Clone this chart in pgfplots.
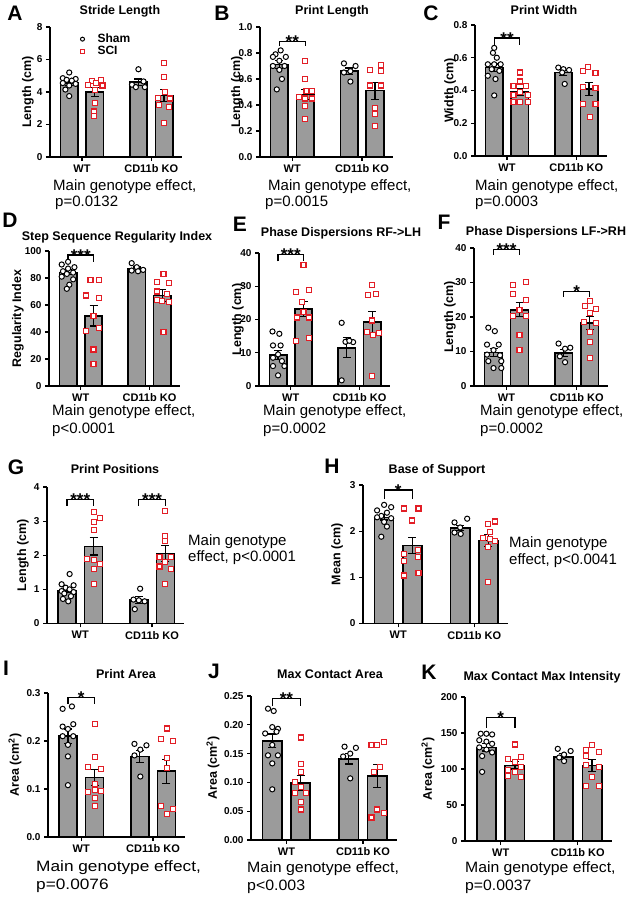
\documentclass[border=0pt]{standalone}
\usepackage{pgfplots}
\pgfplotsset{compat=1.18}
\usepackage{fontspec}
\setmainfont{Liberation Sans}
\definecolor{barg}{RGB}{155,155,155}
\definecolor{scired}{RGB}{226,30,38}
\newcommand\lfont{\bfseries\fontsize{21}{22}\selectfont}
\newcommand\tfont{\bfseries\fontsize{12.5}{14}\selectfont}
\newcommand\mfont{\fontsize{15}{17}\selectfont}
\newcommand\sfont{\bfseries\fontsize{17}{17}\selectfont}
\pgfplotsset{
  prism/.style={
    scale only axis, anchor=south west,
    axis x line*=bottom, axis y line*=left,
    axis line style={line width=1.3pt,-},
    xmin=0.25, xmax=5.4, ymin=0,
    xtick={1.5,4.2}, xticklabels={WT,CD11b KO},
    tick style={line width=1.2pt, black},
    major tick length=4pt, tick align=outside,
    x tick label style={font=\bfseries\fontsize{11}{12}\selectfont},
    y tick label style={font=\bfseries\fontsize{10}{11}\selectfont},
    /pgf/number format/assume math mode=true,
    scaled y ticks=false,
    clip=false,
    every axis y label/.style={rotate=90, anchor=center, font=\bfseries\fontsize{12.5}{14}\selectfont},
  },
  ylpos/.style={every axis y label/.append style={at={(axis description cs:#1,0.5)}}},
  dec/.style={yticklabel style={/pgf/number format/.cd, fixed, fixed zerofill, precision=#1}},
  bars/.style={ybar, bar width=0.68, bar shift=0pt, fill=barg, draw=black, line width=1.6pt,
    error bars/.cd, y dir=both, y explicit,
    error bar style={line width=1.2pt, black},
    error mark options={rotate=90, mark size=4pt, line width=1.2pt, black}},
  sham/.style={only marks, mark=*, mark size=2.6pt, mark options={fill=white, draw=black, line width=1pt, solid}},
  sci/.style={only marks, mark=square*, mark size=2.5pt, mark options={fill=white, draw=scired, line width=1.1pt, solid}},
  brk/.style={black, line width=1.2pt, mark=none},
}
\begin{document}
\begin{tikzpicture}
\path[use as bounding box] (0pt,0pt) rectangle (637pt,899pt);

% ---------------- A
\begin{axis}[prism, at={(50pt,742pt)}, width=132pt, height=130pt, ymax=8, ytick={0,2,4,6,8},
  ylpos=-0.167, ylabel={Length (cm)},
  legend image code/.code={\path[draw=none,fill=none] (0pt,-3pt) rectangle (6pt,3pt); \draw[#1] plot coordinates {(3pt,0pt)};},
  legend style={at={(0.222,0.955)}, anchor=north west, draw=none, fill=none,
    font=\bfseries\fontsize{12}{13}\selectfont, row sep=0pt, column sep=11pt, inner sep=0pt, nodes={inner sep=1pt}},
  legend cell align=left]
\addplot[forget plot, bars] coordinates {(1,4.55) +- (0,0.13) (2,3.99) +- (0,0.27) (3.7,4.6) +- (0,0.2) (4.7,3.78) +- (0,0.38)};
\addplot[forget plot, sham] coordinates {(1.0,5.2)(0.75,4.85)(1.25,4.8)(0.9,4.75)(1.1,4.7)(0.75,4.55)(1.25,4.5)(1.0,4.4)(0.85,4.15)(1.0,3.75)
  (3.7,5.4)(3.9,4.65)(3.45,4.45)(3.6,4.3)(3.95,4.3)};
\addplot[forget plot, sci] coordinates {(2.25,4.75)(1.9,4.65)(2.05,4.55)(1.75,4.45)(2.3,4.4)(2.0,4.15)(2.0,3.35)(1.95,2.8)(1.95,2.5)
  (4.7,5.8)(4.7,4.95)(4.72,4.0)(4.48,3.65)(4.92,3.6)(4.5,3.2)(4.9,3.1)(4.7,2.1)};
\addlegendimage{sham, mark size=2pt}\addlegendentry{Sham}
\addlegendimage{sci, mark size=1.9pt}\addlegendentry{SCI}
\end{axis}

% ---------------- B
\begin{axis}[prism, at={(260pt,742pt)}, width=133pt, height=130pt, ymax=1, ytick={0,0.2,0.4,0.6,0.8,1.0}, dec=1,
  ylpos=-0.173, ylabel={Length (cm)}]
\addplot[bars] coordinates {(1,0.71) +- (0,0.03) (2,0.48) +- (0,0.04) (3.7,0.66) +- (0,0.025) (4.7,0.51) +- (0,0.065)};
\addplot[sham] coordinates {(1.05,0.82)(0.85,0.79)(0.75,0.77)(1.25,0.77)(1.0,0.74)(0.75,0.70)(1.2,0.70)(1.0,0.67)(1.1,0.60)(0.9,0.52)
  (3.5,0.72)(3.95,0.70)(3.75,0.66)(3.5,0.65)(3.75,0.58)};
\addplot[sci] coordinates {(2.0,0.74)(2.0,0.60)(2.05,0.51)(2.25,0.51)(1.75,0.46)(2.0,0.45)(2.25,0.45)(2.0,0.39)(2.0,0.29)
  (4.95,0.71)(4.5,0.67)(4.95,0.66)(4.5,0.55)(4.95,0.55)(4.7,0.38)(4.7,0.33)(4.7,0.24)};
\addplot[brk] coordinates {(1,0.85)(1,0.89)(2,0.89)(2,0.85)};
\node[font=\sfont, anchor=base] at (axis cs:1.5,0.89) [yshift=-6pt] {**};
\end{axis}

% ---------------- C
\begin{axis}[prism, at={(475pt,743pt)}, width=132pt, height=131pt, ymax=0.8, ytick={0,0.2,0.4,0.6,0.8}, dec=1,
  ylpos=-0.189, ylabel={Width (cm)}]
\addplot[bars] coordinates {(1,0.54) +- (0,0.022) (2,0.39) +- (0,0.02) (3.7,0.51) +- (0,0.018) (4.7,0.41) +- (0,0.04)};
\addplot[sham] coordinates {(1.0,0.66)(0.95,0.63)(1.1,0.60)(0.75,0.56)(1.0,0.56)(1.25,0.56)(0.9,0.53)(1.2,0.52)(0.75,0.49)(1.05,0.47)(1.0,0.37)
  (3.5,0.54)(3.7,0.53)(3.92,0.525)(3.65,0.51)(3.75,0.44)};
\addplot[sci] coordinates {(2.0,0.51)(2.0,0.455)(1.75,0.43)(2.25,0.43)(2.0,0.39)(1.75,0.37)(2.3,0.37)(1.75,0.33)(2.0,0.33)(2.3,0.33)
  (4.65,0.545)(4.45,0.52)(4.95,0.505)(4.45,0.42)(4.95,0.415)(4.45,0.315)(4.95,0.315)(4.72,0.24)};
\addplot[brk] coordinates {(1,0.68)(1,0.72)(2,0.72)(2,0.68)};
\node[font=\sfont, anchor=base] at (axis cs:1.5,0.72) [yshift=-6pt] {**};
\end{axis}

% ---------------- D
\begin{axis}[prism, at={(49pt,513pt)}, width=131pt, height=135pt, ymax=100, ytick={0,20,40,60,80,100},
  ylpos=-0.237, ylabel={Regularity Index}]
\addplot[bars] coordinates {(1,84.2) +- (0,1.8) (2,52) +- (0,7.5) (3.7,87) +- (0,1.2) (4.7,67) +- (0,4.2)};
\addplot[sham] coordinates {(1.0,92)(0.75,90)(1.25,88)(1.0,87)(0.8,85)(1.2,84)(0.95,83)(0.75,81)(1.2,79)(1.05,75)(0.95,72)
  (3.5,91)(3.7,88)(3.95,86)(3.5,85.5)(3.75,85)};
\addplot[sci] coordinates {(1.88,78.5)(2.22,78.5)(1.72,67)(2.22,65)(2.0,52)(1.72,41)(2.22,43)(2.0,27)(2.0,16)
  (4.75,83)(4.5,77)(4.95,76)(4.5,70)(4.9,68)(4.5,64)(4.7,63)(4.95,62)(4.75,40)};
\addplot[brk] coordinates {(1,92)(1,97)(2,97)(2,92)};
\node[font=\sfont, anchor=base] at (axis cs:1.5,97) [yshift=-6pt] {***};
\end{axis}

% ---------------- E
\begin{axis}[prism, at={(259pt,513pt)}, width=131pt, height=133pt, ymax=40, ytick={0,10,20,30,40},
  ylpos=-0.16, ylabel={Length (cm)}]
\addplot[bars] coordinates {(1,9.3) +- (0,1.3) (2,23.2) +- (0,2.2) (3.7,11.5) +- (0,3.0) (4.7,19.3) +- (0,3.2)};
\addplot[sham] coordinates {(0.78,16.4)(1.05,15.7)(0.8,12.2)(1.1,12.2)(1.0,9.5)(0.8,8.5)(1.15,7.5)(0.8,6.0)(1.25,6.0)(1.0,3.2)
  (3.5,19)(3.65,13.3)(3.95,13.2)(3.8,13.6)(3.5,1.7)};
\addplot[sci] coordinates {(2.0,36.5)(1.72,28.3)(2.22,28.8)(1.95,25.3)(2.0,22.3)(1.75,20.6)(2.22,20.6)(1.72,13.5)(2.22,14.3)
  (4.7,30.3)(4.55,27.3)(4.85,27.7)(4.7,19.7)(4.48,16.2)(4.95,16)(4.72,15.3)(4.7,2.9)};
\addplot[brk] coordinates {(1,37.5)(1,39.5)(2,39.5)(2,37.5)};
\node[font=\sfont, anchor=base] at (axis cs:1.5,39.5) [yshift=-6pt] {***};
\end{axis}

% ---------------- F
\begin{axis}[prism, at={(474pt,513pt)}, width=134pt, height=138pt, ymax=40, ytick={0,10,20,30,40},
  ylpos=-0.179, ylabel={Length (cm)}]
\addplot[bars] coordinates {(1,9.7) +- (0,1.2) (2,22.1) +- (0,2.0) (3.7,9.5) +- (0,1.0) (4.7,18.2) +- (0,1.9)};
\addplot[sham] coordinates {(0.8,16.9)(1.05,15.9)(0.75,12)(1.2,12)(1.0,10.4)(0.75,9.1)(1.25,8.9)(0.8,7.2)(1.3,7.2)(1.0,5.2)(1.3,5.2)
  (3.5,12.3)(3.75,10.8)(3.95,11.1)(3.55,8.6)(3.75,6.9)};
\addplot[sci] coordinates {(1.75,29.3)(2.25,30.1)(1.75,26.6)(2.25,25)(2.0,22)(1.75,20.4)(2.25,20.4)(2.0,14.7)(2.0,10.4)
  (4.72,24.7)(4.5,23.3)(4.95,22.3)(4.72,21.1)(4.48,18.6)(4.95,18.2)(4.72,15.7)(4.72,12.8)(4.72,8.2)};
\addplot[brk] coordinates {(1,38)(1,39.5)(2,39.5)(2,38)};
\node[font=\sfont, anchor=base] at (axis cs:1.5,39.5) [yshift=-6pt] {***};
\addplot[brk] coordinates {(3.7,25.9)(3.7,27.4)(4.7,27.4)(4.7,25.9)};
\node[font=\sfont, anchor=base] at (axis cs:4.2,27.4) [yshift=-6pt] {*};
\end{axis}

% ---------------- G
\begin{axis}[prism, at={(47pt,275.5pt)}, width=137pt, height=136.5pt, ymax=4, ytick={0,1,2,3,4},
  ylpos=-0.175, ylabel={Length (cm)}]
\addplot[bars] coordinates {(1,0.97) +- (0,0.07) (2,2.26) +- (0,0.25) (3.7,0.68) +- (0,0.1) (4.7,2.05) +- (0,0.23)};
\addplot[sham] coordinates {(1.1,1.45)(0.8,1.15)(1.25,1.12)(0.95,1.05)(1.1,1.0)(0.8,0.95)(1.25,0.92)(0.9,0.88)(1.15,0.8)(0.85,0.72)(1.05,0.65)
  (3.75,1.02)(3.5,0.7)(3.7,0.68)(3.92,0.65)(3.55,0.42)};
\addplot[sci] coordinates {(2.0,3.28)(2.25,3.08)(2.0,2.97)(2.0,2.75)(1.75,1.9)(2.0,1.85)(2.25,1.75)(2.0,1.6)(2.0,1.17)
  (4.7,3.3)(4.7,2.57)(4.7,2.42)(4.48,1.94)(4.92,1.94)(4.7,1.8)(4.48,1.67)(4.92,1.6)(4.7,1.15)};
\addplot[brk] coordinates {(1,3.45)(1,3.64)(2,3.64)(2,3.45)};
\node[font=\sfont, anchor=base] at (axis cs:1.5,3.64) [yshift=-6pt] {***};
\addplot[brk] coordinates {(3.7,3.45)(3.7,3.64)(4.7,3.64)(4.7,3.45)};
\node[font=\sfont, anchor=base] at (axis cs:4.2,3.64) [yshift=-6pt] {***};
\end{axis}

% ---------------- H
\begin{axis}[prism, at={(363pt,275.5pt)}, width=145pt, height=138.5pt, ymax=3, ytick={0,1,2,3},
  ylpos=-0.179, ylabel={Mean (cm)}]
\addplot[bars] coordinates {(1,2.3) +- (0,0.06) (2,1.69) +- (0,0.18) (3.7,2.07) +- (0,0.06) (4.7,1.8) +- (0,0.13)};
\addplot[sham] coordinates {(1.0,2.57)(1.25,2.52)(0.75,2.45)(1.1,2.4)(0.9,2.33)(0.75,2.3)(1.25,2.28)(1.0,2.2)(1.1,2.1)(0.9,1.88)
  (3.5,2.19)(3.95,2.27)(3.7,2.08)(3.5,1.97)(3.72,1.94)};
\addplot[sci] coordinates {(1.72,2.49)(2.22,2.49)(2.0,2.23)(1.72,1.51)(2.2,1.6)(1.72,1.35)(2.2,1.45)(1.72,1.04)(2.22,1.09)
  (4.95,2.21)(4.7,2.16)(4.75,1.99)(4.5,1.86)(4.75,1.83)(4.95,1.78)(4.7,1.65)(4.7,0.9)};
\addplot[brk] coordinates {(1,2.7)(1,2.89)(2,2.89)(2,2.7)};
\node[font=\sfont, anchor=base] at (axis cs:1.5,2.89) [yshift=-6pt] {*};
\end{axis}

% ---------------- I
\begin{axis}[prism, at={(48pt,62pt)}, width=137pt, height=144pt, ymax=0.3, ytick={0,0.1,0.2,0.3}, dec=1,
  ylpos=-0.241, ylabel={Area (cm\textsuperscript{2})}]
\addplot[bars] coordinates {(1,0.21) +- (0,0.015) (2,0.124) +- (0,0.017) (3.7,0.168) +- (0,0.012) (4.7,0.137) +- (0,0.025)};
\addplot[sham] coordinates {(0.8,0.267)(1.15,0.272)(0.8,0.23)(1.2,0.235)(1.0,0.225)(0.8,0.21)(1.2,0.21)(1.0,0.192)(1.0,0.168)(1.0,0.108)
  (3.5,0.194)(3.95,0.191)(3.72,0.182)(3.5,0.17)(3.72,0.126)};
\addplot[sci] coordinates {(2.0,0.235)(2.0,0.167)(1.75,0.146)(2.25,0.142)(2.0,0.111)(2.0,0.098)(1.75,0.094)(2.25,0.095)(2.0,0.081)(2.0,0.064)
  (4.72,0.226)(4.5,0.204)(4.95,0.2)(4.72,0.165)(4.72,0.144)(4.5,0.065)(4.72,0.047)(4.95,0.058)};
\addplot[brk] coordinates {(1,0.277)(1,0.29)(2,0.29)(2,0.277)};
\node[font=\sfont, anchor=base] at (axis cs:1.5,0.29) [yshift=-6pt] {*};
\end{axis}

% ---------------- J
\begin{axis}[prism, at={(251pt,59pt)}, width=146pt, height=144pt, ymax=0.25, ytick={0,0.05,0.10,0.15,0.20,0.25}, dec=2,
  ylpos=-0.26, ylabel={Area (cm\textsuperscript{2})}]
\addplot[bars] coordinates {(1,0.172) +- (0,0.012) (2,0.099) +- (0,0.013) (3.7,0.141) +- (0,0.009) (4.7,0.111) +- (0,0.02)};
\addplot[sham] coordinates {(0.85,0.228)(1.05,0.224)(1.0,0.196)(1.2,0.193)(0.75,0.185)(1.15,0.188)(1.0,0.165)(0.85,0.147)(1.2,0.147)(1.0,0.133)(1.0,0.088)
  (3.55,0.162)(3.95,0.16)(3.75,0.15)(3.5,0.145)(3.75,0.107)};
\addplot[sci] coordinates {(2.0,0.178)(2.0,0.132)(2.0,0.118)(1.8,0.1)(2.0,0.092)(1.8,0.082)(2.2,0.082)(2.0,0.066)(2.0,0.053)
  (4.5,0.165)(4.7,0.165)(4.95,0.17)(4.8,0.127)(4.6,0.118)(4.7,0.053)(4.5,0.039)(4.95,0.047)};
\addplot[brk] coordinates {(1,0.232)(1,0.245)(2,0.245)(2,0.232)};
\node[font=\sfont, anchor=base] at (axis cs:1.5,0.245) [yshift=-6pt] {**};
\end{axis}

% ---------------- K
\begin{axis}[prism, at={(465pt,58pt)}, width=147pt, height=144pt, ymax=200, ytick={0,50,100,150,200},
  ylpos=-0.252, ylabel={Area (cm\textsuperscript{2})}]
\addplot[bars] coordinates {(1,130) +- (0,5) (2,105) +- (0,5) (3.7,117) +- (0,4) (4.7,105) +- (0,8)};
\addplot[sham] coordinates {(0.8,149)(1.0,149)(1.2,148)(0.75,140)(1.0,138)(1.2,135)(0.75,130)(1.0,127)(1.2,123)(0.85,118)(0.85,96)
  (3.5,128)(3.95,125)(3.72,120)(3.55,116)(3.72,111)};
\addplot[sci] coordinates {(2.0,134)(1.75,114)(2.2,117)(2.0,110)(2.2,103)(1.75,99)(2.0,96)(1.75,90)(2.2,89)
  (4.7,133)(4.5,126)(4.95,124)(4.5,118)(4.5,105)(4.95,103)(4.7,89)(4.5,77)(4.95,77)};
\addplot[brk] coordinates {(1,157)(1,171)(2,171)(2,157)};
\node[font=\sfont, anchor=base] at (axis cs:1.5,171) [yshift=-6pt] {*};
\end{axis}

% ---------------- panel letters
\node[font=\lfont] at (15pt,886pt) {A};
\node[font=\lfont] at (222pt,886pt) {B};
\node[font=\lfont] at (431pt,886pt) {C};
\node[font=\lfont] at (10pt,679pt) {D};
\node[font=\lfont] at (240pt,675pt) {E};
\node[font=\lfont] at (444pt,677pt) {F};
\node[font=\lfont] at (16pt,432pt) {G};
\node[font=\lfont] at (332pt,433pt) {H};
\node[font=\lfont] at (6pt,231pt) {I};
\node[font=\lfont] at (214pt,228pt) {J};
\node[font=\lfont] at (429pt,227pt) {K};

% ---------------- titles
\node[font=\tfont] at (120pt,888pt) {Stride Length};
\node[font=\tfont] at (332pt,888pt) {Print Length};
\node[font=\tfont] at (544pt,889pt) {Print Width};
\node[font=\tfont] at (117pt,662pt) {Step Sequence Regularity Index};
\node[font=\tfont] at (341pt,666pt) {Phase Dispersions RF->LH};
\node[font=\tfont] at (546pt,666.5pt) {Phase Dispersions LF->RH};
\node[font=\tfont] at (115pt,430pt) {Print Positions};
\node[font=\tfont] at (437pt,429pt) {Base of Support};
\node[font=\tfont] at (126pt,225pt) {Print Area};
\node[font=\tfont] at (330pt,225pt) {Max Contact Area};
\node[font=\tfont] at (542pt,221.5pt) {Max Contact Max Intensity};

% ---------------- genotype effect notes
\node[font=\mfont, anchor=west, inner sep=0pt] at (53pt,712pt) {Main genotype effect,};
\node[font=\mfont, anchor=west, inner sep=0pt] at (55pt,696pt) {p=0.0132};
\node[font=\mfont, anchor=west, inner sep=0pt] at (268pt,712pt) {Main genotype effect,};
\node[font=\mfont, anchor=west, inner sep=0pt] at (265pt,696pt) {p=0.0015};
\node[font=\mfont, anchor=west, inner sep=0pt] at (475pt,712pt) {Main genotype effect,};
\node[font=\mfont, anchor=west, inner sep=0pt] at (475pt,696pt) {p=0.0003};
\node[font=\mfont, anchor=west, inner sep=0pt] at (52pt,487pt) {Main genotype effect,};
\node[font=\mfont, anchor=west, inner sep=0pt] at (52pt,469pt) {p<0.0001};
\node[font=\mfont, anchor=west, inner sep=0pt] at (263pt,487pt) {Main genotype effect,};
\node[font=\mfont, anchor=west, inner sep=0pt] at (263pt,469pt) {p=0.0002};
\node[font=\mfont, anchor=west, inner sep=0pt] at (480pt,487pt) {Main genotype effect,};
\node[font=\mfont, anchor=west, inner sep=0pt] at (480pt,469pt) {p=0.0002};
\node[font=\mfont, anchor=west, inner sep=0pt] at (188pt,357pt) {Main genotype};
\node[font=\mfont, anchor=west, inner sep=0pt] at (188pt,341pt) {effect, p<0.0001};
\node[font=\mfont, anchor=west, inner sep=0pt] at (509pt,355pt) {Main genotype};
\node[font=\mfont, anchor=west, inner sep=0pt] at (509pt,338pt) {effect, p<0.0041};
\node[font=\mfont, anchor=west, inner sep=0pt, xscale=1.15] at (36pt,31pt) {Main genotype effect,};
\node[font=\mfont, anchor=west, inner sep=0pt, xscale=1.15] at (36pt,13pt) {p=0.0076};
\node[font=\mfont, anchor=west, inner sep=0pt, xscale=1.06] at (247pt,30pt) {Main genotype effect,};
\node[font=\mfont, anchor=west, inner sep=0pt, xscale=1.06] at (247pt,12pt) {p<0.003};
\node[font=\mfont, anchor=west, inner sep=0pt, xscale=1.05] at (465pt,30pt) {Main genotype effect,};
\node[font=\mfont, anchor=west, inner sep=0pt, xscale=1.05] at (465pt,12pt) {p=0.0037};
\end{tikzpicture}
\end{document}
